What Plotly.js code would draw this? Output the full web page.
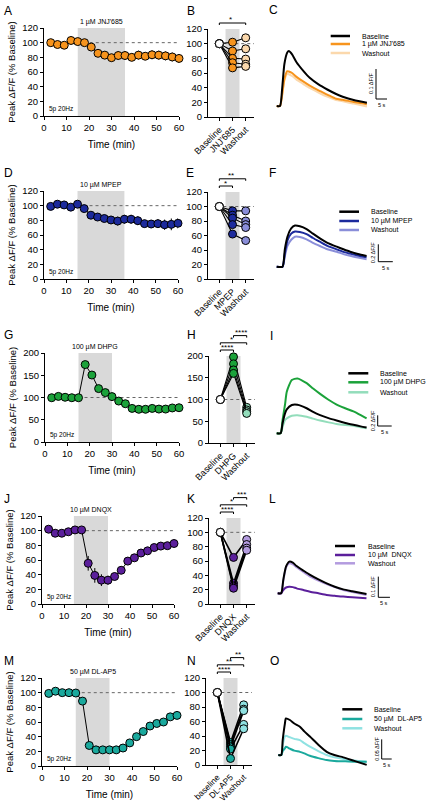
<!DOCTYPE html>
<html><head><meta charset="utf-8">
<script src="https://cdn.plot.ly/plotly-3.0.1.min.js"></script>
<style>html,body{margin:0;padding:0;background:#fff}#chart{width:426px;height:804px}</style>
</head><body><div id="chart"></div>
<script>
// ================= DATA =================
const timeMin = [3,6,9,12,15,18,21,24,27,30,33,36,39,42,45,48,51,54,57,60];
const timeTicks = [0,10,20,30,40,50,60];
const drugNames = ["1 µM JNJ'685","10 µM MPEP","100 µM DHPG","10 µM  DNQX","50 µM  DL-AP5"];
const drugStart = [15,15,15,14.5,15];
const drugEnd = [36,36,30,30,30];
const yMax = [120,120,200,120,120];
const yDtick = [20,20,50,20,20];

const jnjMean = [100,97.5,96.5,103,101.5,100,94,85.5,83,79.5,82.5,82.5,80,83,81.5,83.5,83,82,80.5,78.5];
const jnjErr  = [3,3,3,3,3,3,4,5,5,5,6,6,5,6,5,6,6,6,6,6];
const mpepMean = [99,102,101,98,102,96,87,84.5,82.5,80.5,79,81.5,81.5,79.5,75.5,75,75.5,74,74.5,76];
const mpepErr  = [3,3,3,3,3,4,4,4,4,5,6,6,6,6,5,5,6,7,8,7];
const dhpgMean = [99.5,102.5,100.5,99.5,99.5,174,150.5,120,111,102,92,86,75.5,73.5,73.5,75.5,74,74,76.5,77];
const dhpgErr  = [3,3,3,3,3,6,6,5,5,5,4,4,3,3,3,3,3,3,3,3];
const dnqxMean = [102,96.5,96.5,98.5,101,101,55.5,39,32.5,32.5,37.5,46,58.5,63,69.5,72.5,77,79,79.5,82.5];
const dnqxErr  = [3,3,3,3,3,4,10,10,8,6,5,5,4,4,4,4,4,4,3,3];
const ap5Mean = [99,102,100,100,99.5,88.5,28,22,22,22,22,24.5,31.5,40,47,54.5,58,60,67,69];
const ap5Err  = [3,3,3,3,3,3,3,2,2,2,2,2,3,3,3,3,3,3,4,4];

const pairCatsB = ["Baseline","JNJ'685","Washout"];
const pairCatsE = ["Baseline","MPEP","Washout"];
const pairCatsH = ["Baseline","DHPG","Washout"];
const pairCatsK = ["Baseline","DNQX","Washout"];
const pairCatsN = ["baseline","DL-AP5","Washout"];
const pairBaseline = 100;
const jnjPairDrug = [102,90,80,74,67];
const jnjPairWash = [108,93,79,72,69];
const mpepPairDrug = [94,88,84,75,62];
const mpepPairWash = [94,80,75,71,53];
const dhpgPairDrug = [198,182,168,160];
const dhpgPairWash = [82,76,72,68];
const dnqxPairDrug = [65,29,25,22];
const dnqxPairWash = [90,83,78,75];
const ap5PairDrug = [31,28,25,22,9];
const ap5PairWash = [83,77,75,56,50];

// significance: [from category, to category, label], lowest bar first
const sigB = [[0,2,"*"]];
const sigE = [[0,1,"*"],[0,2,"**"]];
const sigH = [[0,1,"****"],[0,2,"*"],[1,2,"****"]];
const sigK = [[0,1,"****"],[0,2,"*"],[1,2,"***"]];
const sigN = [[0,1,"****"],[0,2,"**"],[1,2,"**"]];

// example traces: time (s), dF/F
const trTimeC = [0,1.5,2.5,3.5,4.8,5.5,7,9,12,15,19,23,27,30,35,41];
const trBaseC = [0,0,0.06,0.14,0.178,0.183,0.172,0.146,0.118,0.094,0.072,0.055,0.04,0.031,0.02,0.011];
const trDrugC = [0,0,0.04,0.09,0.116,0.115,0.11,0.097,0.082,0.068,0.052,0.038,0.024,0.021,0.013,0.006];
const trWashC = [0,0,0.035,0.085,0.107,0.106,0.1,0.088,0.074,0.06,0.045,0.031,0.02,0.016,0.008,-0.002];
const trTimeF = [0,2,2.8,3.7,5,6.3,8,10.3,12.5,14.9,17.5,20.7,23,25.3,28,31];
const trBaseF = [0,0,0.2,0.345,0.44,0.473,0.465,0.433,0.38,0.326,0.275,0.23,0.2,0.172,0.145,0.123];
const trDrugF = [0,0,0.15,0.3,0.38,0.405,0.4,0.375,0.33,0.287,0.24,0.199,0.17,0.15,0.128,0.107];
const trWashF = [0,0,0.12,0.24,0.31,0.345,0.342,0.314,0.275,0.238,0.2,0.172,0.145,0.125,0.105,0.084];
const trTimeI = [0,1.4,2.1,3,3.6,5.4,7.4,10.7,13,15.5,18.5,21.4,24.5,27.4,30,32.1];
const trBaseI = [0,0,0.19,0.38,0.45,0.53,0.535,0.47,0.4,0.34,0.285,0.24,0.195,0.16,0.13,0.11];
const trDrugI = [0,0,0.25,0.55,0.78,1.0,1.03,0.94,0.84,0.74,0.63,0.54,0.47,0.41,0.34,0.28];
const trWashI = [0,0,0.12,0.25,0.28,0.33,0.34,0.31,0.275,0.24,0.205,0.175,0.155,0.14,0.115,0.094];
const trTimeL = [0,1.5,2.4,3.6,5,6.5,8.1,11,13.9,17.5,21,24.5,28.1,32,38.1];
const trBaseL = [0,0,0.065,0.13,0.153,0.148,0.132,0.11,0.089,0.067,0.048,0.032,0.019,0.01,-0.003];
const trDrugL = [0,0,0.016,0.028,0.032,0.03,0.024,0.016,0.008,0,-0.008,-0.012,-0.016,-0.019,-0.024];
const trWashL = [0,0,0.06,0.126,0.145,0.14,0.126,0.103,0.081,0.062,0.045,0.03,0.016,0.006,-0.008];
const trTimeO = [0,1.5,2.2,3.3,3.8,5.8,8,10.8,13,15.8,20,24.2,28,32.5,38,44.2];
const trBaseO = [0,0,0.038,0.08,0.093,0.089,0.08,0.072,0.06,0.047,0.026,0.008,0,-0.006,-0.015,-0.025];
const trDrugO = [0,0,0.01,0.017,0.021,0.016,0.011,0.008,0.004,-0.002,-0.008,-0.013,-0.015,-0.016,-0.017,-0.017];
const trWashO = [0,0,0.025,0.047,0.049,0.045,0.041,0.038,0.03,0.021,0.01,0,-0.006,-0.01,-0.014,-0.017];

const scaleTime = [5,5,5,5,5];
const scaleAmp = [0.1,0.2,0.2,0.1,0.05];
const scaleAmpLabel = ["0.1 ΔF/F","0.2 ΔF/F","0.2 ΔF/F","0.1 ΔF/F","0.05 ΔF/F"];
const legendLabels = ["Baseline","Washout"];
const panelLetters = [["A","B","C"],["D","E","F"],["G","H","I"],["J","K","L"],["M","N","O"]];

// ================= STYLE / LAYOUT CONSTANTS =================
const W = 426, H = 804;
const FONT = "Liberation Sans, Arial, Helvetica, sans-serif";
const drugColors = ['#F7941D','#1C2A9C','#1BA23A','#5B1F9B','#1AA99D'];
const washColors = ['#FBD8AC','#8A8ED9','#93DDBB','#B39BDF','#8FE2E2'];
const shadeColor = '#d9d9d9';

const timeDom = [[44,179,28,116],[44,178,191,279],[45,179,353,442],[42,174,516,604],[42,177,678,766]];
const pairDom = [[208,254,29,117],[208,254,192,279],[209,255,356,443],[209,255,518,604],[206,252,678,765]];
const pairTickSize = [9,9,9,9,8.5];
const traceDom = [[270,400,25,118],[270,400,185,285],[270,400,340,445],[270,400,505,610],[270,400,665,775]];
const traceCal = [[276.7,106,2.2,300],[276.7,266.7,2.9,87],[276.7,433.3,2.8,53.3],[277.7,593.3,2.33,206.7],[278.3,755,2.0,393.3]];
const scaleBarPx = [[376,99],[378.3,261.7],[377.7,426],[378.3,597.3],[381.7,759]];
const legendPx = [[330.7,350,360,[36,44,53]],[339.3,359,369.3,[211.7,221,230]],[348.3,368.3,378.3,[373.3,382.3,392.3]],[335,355,366,[546,555,563.3]],[342.3,362.3,372.3,[709.3,719,728.3]]];
const letterPx = [[[2,2],[185,2],[267,1]],[[2,164],[184,164],[267,164]],[[2,326],[185,326],[268,327]],[[2,490],[185,490],[267,490]],[[2,652],[185,652],[268,652]]];
const pairRange = [-0.86,2.63];

// ================= BUILD =================
const timeMeans = [jnjMean,mpepMean,dhpgMean,dnqxMean,ap5Mean];
const timeErrs = [jnjErr,mpepErr,dhpgErr,dnqxErr,ap5Err];
const pairCats = [pairCatsB,pairCatsE,pairCatsH,pairCatsK,pairCatsN];
const pairDrug = [jnjPairDrug,mpepPairDrug,dhpgPairDrug,dnqxPairDrug,ap5PairDrug];
const pairWash = [jnjPairWash,mpepPairWash,dhpgPairWash,dnqxPairWash,ap5PairWash];
const sigs = [sigB,sigE,sigH,sigK,sigN];
const trTime = [trTimeC,trTimeF,trTimeI,trTimeL,trTimeO];
const trBase = [trBaseC,trBaseF,trBaseI,trBaseL,trBaseO];
const trDrug = [trDrugC,trDrugF,trDrugI,trDrugL,trDrugO];
const trWash = [trWashC,trWashF,trWashI,trWashL,trWashO];

const ax = i => (i === 1 ? '' : String(i));
const axisStyle = {showline:true, linecolor:'#000', linewidth:1, ticks:'outside', ticklen:3, tickwidth:1,
  tickcolor:'#000', showgrid:false, zeroline:false, tickfont:{size:9.5}, fixedrange:true};

const layout = {width:W, height:H, margin:{l:0,r:0,t:0,b:0}, paper_bgcolor:'#fff', plot_bgcolor:'rgba(0,0,0,0)',
  showlegend:false, font:{family:FONT, color:'#000', size:9}, shapes:[], annotations:[]};
const data = [];

for (let p = 0; p < 5; p++) {
  const iT = 3*p+1, iP = 3*p+2, iR = 3*p+3;
  const xT = 'x'+ax(iT), yT = 'y'+ax(iT), xP = 'x'+ax(iP), yP = 'y'+ax(iP), xR = 'x'+ax(iR), yR = 'y'+ax(iR);
  // ---- time course ----
  const [tl,tr,tt,tb] = timeDom[p];
  layout['xaxis'+ax(iT)] = Object.assign({}, axisStyle, {domain:[tl/W,tr/W], anchor:yT, range:[0,60], tickvals:timeTicks,
    title:{text:'Time (min)', font:{size:10}, standoff:8}});
  layout['yaxis'+ax(iT)] = Object.assign({}, axisStyle, {domain:[1-tb/H,1-tt/H], anchor:xT, range:[0,yMax[p]], tick0:0, dtick:yDtick[p],
    title:{text:'Peak ΔF/F (% Baseline)', font:{size:9.5}, standoff:4}});
  layout.shapes.push({type:'rect', xref:xT, yref:yT+' domain', x0:drugStart[p], x1:drugEnd[p], y0:0, y1:1,
    fillcolor:shadeColor, line:{width:0}, layer:'below'});
  layout.shapes.push({type:'line', xref:xT, yref:yT, x0:drugStart[p], x1:60, y0:pairBaseline, y1:pairBaseline,
    line:{color:'#666', width:1, dash:'dot'}, layer:'below'});
  layout.annotations.push({xref:xT, yref:yT+' domain', x:(drugStart[p]+drugEnd[p])/2, y:1, yanchor:'bottom', yshift:0,
    text:drugNames[p].replace('  ',' '), showarrow:false, font:{size:7}});
  layout.annotations.push({xref:xT+' domain', yref:yT+' domain', x:0, y:0, xanchor:'left', yanchor:'bottom', xshift:3, yshift:1,
    text:'5p 20Hz', showarrow:false, font:{size:6.5}});
  data.push({type:'scatter', mode:'lines+markers', x:timeMin, y:timeMeans[p], xaxis:xT, yaxis:yT, cliponaxis:false,
    error_y:{type:'data', array:timeErrs[p], color:'#000', thickness:1, width:0},
    line:{color:'#000', width:1}, marker:{size:8, color:drugColors[p], line:{color:'#000', width:1}}, hoverinfo:'skip'});

  // ---- paired ----
  const [pl,pr,pt,pb] = pairDom[p];
  layout['xaxis'+ax(iP)] = Object.assign({}, axisStyle, {domain:[pl/W,pr/W], anchor:yP, range:pairRange, tickvals:[0,1,2],
    ticktext:pairCats[p], tickangle:-45, tickfont:{size:pairTickSize[p]}});
  layout['yaxis'+ax(iP)] = Object.assign({}, axisStyle, {domain:[1-pb/H,1-pt/H], anchor:xP, range:[0,yMax[p]], tick0:0, dtick:yDtick[p]});
  layout.shapes.push({type:'rect', xref:xP, yref:yP+' domain', x0:0.47, x1:1.53, y0:0, y1:1, fillcolor:shadeColor, line:{width:0}, layer:'below'});
  layout.shapes.push({type:'line', xref:xP, yref:yP, x0:0.3, x1:pairRange[1], y0:pairBaseline, y1:pairBaseline,
    line:{color:'#666', width:1, dash:'dot'}, layer:'below'});
  for (let a = 0; a < pairDrug[p].length; a++) {
    data.push({type:'scatter', mode:'lines+markers', x:[0,1,2], y:[pairBaseline, pairDrug[p][a], pairWash[p][a]], xaxis:xP, yaxis:yP,
      cliponaxis:false, line:{color:'#000', width:(p >= 3 ? 1.6 : 1.1)},
      marker:{size:8, color:['#ffffff', drugColors[p], washColors[p]], line:{color:'#000', width:1}}, hoverinfo:'skip'});
  }
  const hDom = pb - pt;
  sigs[p].forEach((s, k) => {
    const yPx = pt - 6 - 7.2*k;
    const yd = 1 + (pt - yPx)/hDom;
    const tick = 2/hDom;
    const st = {xref:xP, yref:yP+' domain', line:{color:'#000', width:1}};
    layout.shapes.push(Object.assign({type:'line', x0:s[0], x1:s[1], y0:yd, y1:yd}, st));
    layout.shapes.push(Object.assign({type:'line', x0:s[0], x1:s[0], y0:yd, y1:yd-tick}, st));
    layout.shapes.push(Object.assign({type:'line', x0:s[1], x1:s[1], y0:yd, y1:yd-tick}, st));
    // labels nudged like the reference so stacked labels do not collide
    const nudge = (s[0] === 0 && s[1] === 2) ? -0.12 : (s[0] === 1 && s[1] === 2 ? 0.1 : 0);
    layout.annotations.push({xref:xP, yref:yP+' domain', x:(s[0]+s[1])/2 + nudge, y:yd, yanchor:'middle', yshift:3,
      text:s[2], showarrow:false, font:{size:8}, borderpad:0});
  });

  // ---- example traces ----
  const [rl,rr,rt,rb] = traceDom[p];
  const [x0,base,sx,sy] = traceCal[p];
  layout['xaxis'+ax(iR)] = {domain:[rl/W,rr/W], anchor:yR, range:[(rl-x0)/sx,(rr-x0)/sx], visible:false, fixedrange:true};
  layout['yaxis'+ax(iR)] = {domain:[1-rb/H,1-rt/H], anchor:xR, range:[(base-rb)/sy,(base-rt)/sy], visible:false, fixedrange:true};
  [[trWash[p], washColors[p]], [trDrug[p], drugColors[p]], [trBase[p], '#000']].forEach(([ys,c]) => {
    data.push({type:'scatter', mode:'lines', x:trTime[p], y:ys, xaxis:xR, yaxis:yR, line:{color:c, width:2, shape:'spline', smoothing:0.6},
      hoverinfo:'skip'});
  });
  // scale bars
  const [bx,bb] = scaleBarPx[p];
  const bt = (bx - x0)/sx, bv = (base - bb)/sy;
  const sbs = {xref:xR, yref:yR, line:{color:'#000', width:1}};
  layout.shapes.push(Object.assign({type:'line', x0:bt, x1:bt, y0:bv, y1:bv+scaleAmp[p]}, sbs));
  layout.shapes.push(Object.assign({type:'line', x0:bt, x1:bt+scaleTime[p], y0:bv, y1:bv}, sbs));
  layout.annotations.push({xref:xR, yref:yR, x:bt, y:bv+scaleAmp[p]/2, xshift:-5, textangle:-90, text:scaleAmpLabel[p],
    showarrow:false, font:{size:5.5}});
  layout.annotations.push({xref:xR, yref:yR, x:bt+scaleTime[p]/2, y:bv, yanchor:'top', yshift:-1, text:scaleTime[p]+' s',
    showarrow:false, font:{size:5.5}});
  // legend
  const [lx0,lx1,ltx,lys] = legendPx[p];
  const labs = [legendLabels[0], drugNames[p], legendLabels[1]];
  const cols = ['#000', drugColors[p], washColors[p]];
  for (let j = 0; j < 3; j++) {
    layout.shapes.push({type:'line', xref:'paper', yref:'paper', x0:lx0/W, x1:lx1/W, y0:1-lys[j]/H, y1:1-lys[j]/H,
      line:{color:cols[j], width:2.5}});
    layout.annotations.push({xref:'paper', yref:'paper', x:ltx/W, y:1-lys[j]/H, xanchor:'left', yanchor:'middle',
      text:labs[j].replace(/  /g,'&nbsp; '), showarrow:false, font:{size:7}});
  }
  // panel letters
  for (let c = 0; c < 3; c++) {
    const [lx,ly] = letterPx[p][c];
    layout.annotations.push({xref:'paper', yref:'paper', x:lx/W, y:1-ly/H, xanchor:'left', yanchor:'top',
      text:panelLetters[p][c], showarrow:false, font:{size:12}});
  }
}

Plotly.newPlot('chart', data, layout, {displayModeBar:false, staticPlot:true});
</script>
</body></html>
